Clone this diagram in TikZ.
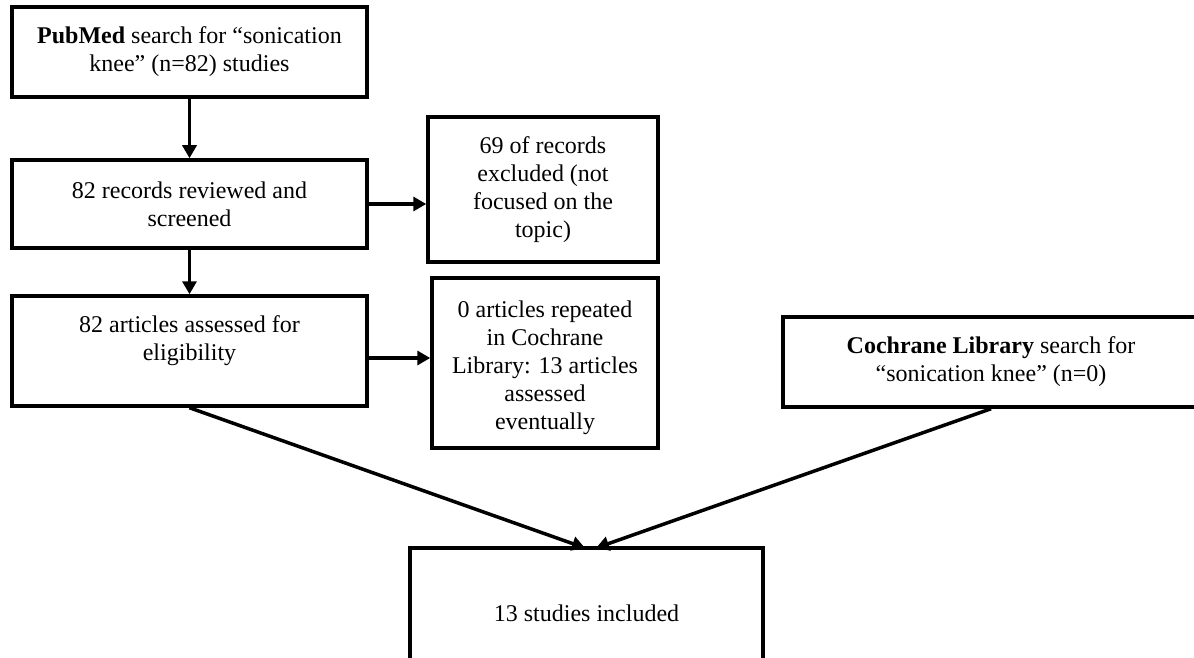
\documentclass[tikz,border=0pt]{standalone}
\usepackage{fontspec}
\setmainfont{Liberation Serif}
\usetikzlibrary{arrows.meta}
\begin{document}
\begin{tikzpicture}[x=1pt,y=-1pt,
  box/.style={draw, line width=3.5pt, rectangle, inner sep=0pt, align=center, font=\fontsize{24}{28}\selectfont},
  txt/.style={align=center, inner sep=0pt, font=\fontsize{24}{28}\selectfont},
  arr/.style={line width=3.5pt, -{Triangle[length=13pt,width=14pt]}},
  ]
\useasboundingbox (0,0) rectangle (1194,658);
\fill[white] (0,0) rectangle (1194,658);
\node[box, minimum width=355pt, minimum height=90pt] (b1) at (189.5,52)
  {\textbf{PubMed} search for “sonication\\knee” (n=82) studies};
\node[box, minimum width=355pt, minimum height=88pt] (b2) at (189.5,204)
  {82 records reviewed and\\screened};
\node[box, minimum width=230pt, minimum height=145pt] (b3) at (543,189.5)
  {69 of records\\excluded (not\\focused on the\\topic)};
\node[box, minimum width=355pt, minimum height=110pt] (b4) at (189.5,351) {};
\node[txt] (t4) at (189.5,341) {82 articles assessed for\\eligibility};
\node[box, minimum width=226pt, minimum height=170pt] (b5) at (545,363) {};
\node[txt] (t5) at (545,368) {0 articles repeated\\in Cochrane\\Library: 13 articles\\assessed\\eventually};
\node[box, minimum width=416pt, minimum height=90pt] (b6) at (991,362)
  {\textbf{Cochrane Library} search for\\“sonication knee” (n=0)};
\node[box, minimum width=353pt, minimum height=130pt] (b7) at (586.5,613)
  {13 studies included};
\coordinate (a4) at (0,358);
\coordinate (tl) at (585,548);
\coordinate (tr) at (596,548);
\draw[arr] (b1.south) -- (b2.north);
\draw[arr] (b2.south) -- (b4.north);
\draw[arr] (b2.east) -- (b3.west |- b2.east);
\draw[arr] (b4.east |- a4) -- (b5.west |- a4);
\draw[arr] (b4.south) -- (tl);
\draw[arr] (b6.south) -- (tr);
\end{tikzpicture}
\end{document}
